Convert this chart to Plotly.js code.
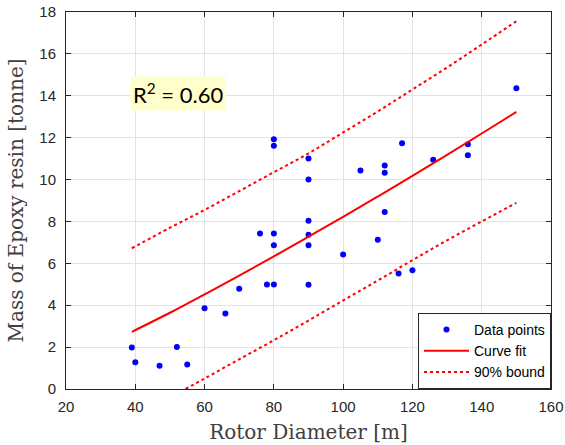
<!DOCTYPE html>
<html><head><meta charset="utf-8">
<script src="https://cdn.plot.ly/plotly-3.0.1.min.js"></script>
<style>html,body{margin:0;padding:0;background:#fff;}#chart{width:565px;height:445px;}</style>
</head><body><div id="chart"></div>
<script>
var dataX = [39,40,47,52,55,60,66,70,76,78,80,80,80,80,80,90,90,90,90,90,90,100,105,110,112,112,112,116,117,120,126,136,136,150];
var dataY = [1.98,1.28,1.11,2.0,1.17,3.85,3.61,4.79,7.43,4.99,4.99,6.86,7.43,11.62,11.92,11.01,10.0,8.03,7.37,6.86,4.98,6.42,10.43,7.13,10.67,10.33,8.45,5.52,11.73,5.67,10.95,11.68,11.16,14.36];
var fitX = [39,50,60,70,80,90,100,110,120,130,140,150];
var fitY = [2.73,3.64,4.52,5.41,6.33,7.27,8.22,9.19,10.18,11.18,12.2,13.23];
var upX = [39,50,60,70,80,90,100,110,120,130,140,150];
var upY = [6.72,7.7,8.55,9.45,10.35,11.25,12.25,13.25,14.3,15.35,16.45,17.56];
var loX = [54.5,60,70,80,90,100,110,120,130,140,150];
var loY = [0,0.5,1.42,2.33,3.27,4.23,5.18,6.15,7.1,8.0,8.89];
var xTicks = [20,40,60,80,100,120,140,160];
var yTicks = [0,2,4,6,8,10,12,14,16,18];

var traces = [
 {x:dataX, y:dataY, type:'scatter', mode:'markers', name:'Data points',
  marker:{color:'#0000ff', size:6}},
 {x:fitX, y:fitY, type:'scatter', mode:'lines', name:'Curve fit',
  line:{color:'#ff0000', width:2, shape:'spline'}},
 {x:upX, y:upY, type:'scatter', mode:'lines', name:'90% bound',
  line:{color:'#ff0000', width:2, dash:'dot', shape:'spline'}},
 {x:loX, y:loY, type:'scatter', mode:'lines', name:'90% bound', showlegend:false,
  line:{color:'#ff0000', width:2, dash:'dot', shape:'spline'}}
];
var axCommon = {showline:true, linecolor:'#262626', linewidth:1, mirror:'ticks',
  ticks:'inside', ticklen:5, tickcolor:'#262626', showgrid:true, gridcolor:'#e3e3e3',
  zeroline:false, tickfont:{family:'Liberation Sans, Arial', size:15, color:'#262626'}};
var layout = {
 width:565, height:445, margin:{l:66, r:14, t:12, b:56},
 paper_bgcolor:'#fff', plot_bgcolor:'#fff', showlegend:true,
 xaxis:Object.assign({}, axCommon, {range:[20,160], tickvals:xTicks, ticktext:xTicks.map(String),
   ticklabelstandoff:4,
   title:{text:'Rotor Diameter [m]', standoff:10, font:{family:'DejaVu Serif, Liberation Serif', size:20, color:'#404040'}}}),
 yaxis:Object.assign({}, axCommon, {range:[0,18], tickvals:yTicks, ticktext:yTicks.map(String),
   ticklabelstandoff:6,
   title:{text:'Mass of Epoxy resin [tonne]', standoff:10, font:{family:'DejaVu Serif, Liberation Serif', size:20, color:'#404040'}}}),
 legend:{x:1, y:0, xanchor:'right', yanchor:'bottom', bgcolor:'#fff', bordercolor:'#262626', borderwidth:1,
   font:{family:'Liberation Sans, Arial', size:14, color:'#000'}, itemwidth:45, tracegroupgap:0},
 annotations:[{xref:'paper', yref:'paper', x:(130-66)/485, y:1-(94-12)/377, xanchor:'left', yanchor:'middle',
   text:'R<sup>2</sup> = 0.60', showarrow:false, bgcolor:'#ffffcc', borderpad:2,
   font:{family:'Lato, Open Sans', size:22, color:'#000'}}]
};
Plotly.newPlot('chart', traces, layout, {displayModeBar:false, staticPlot:true});
</script></body></html>
